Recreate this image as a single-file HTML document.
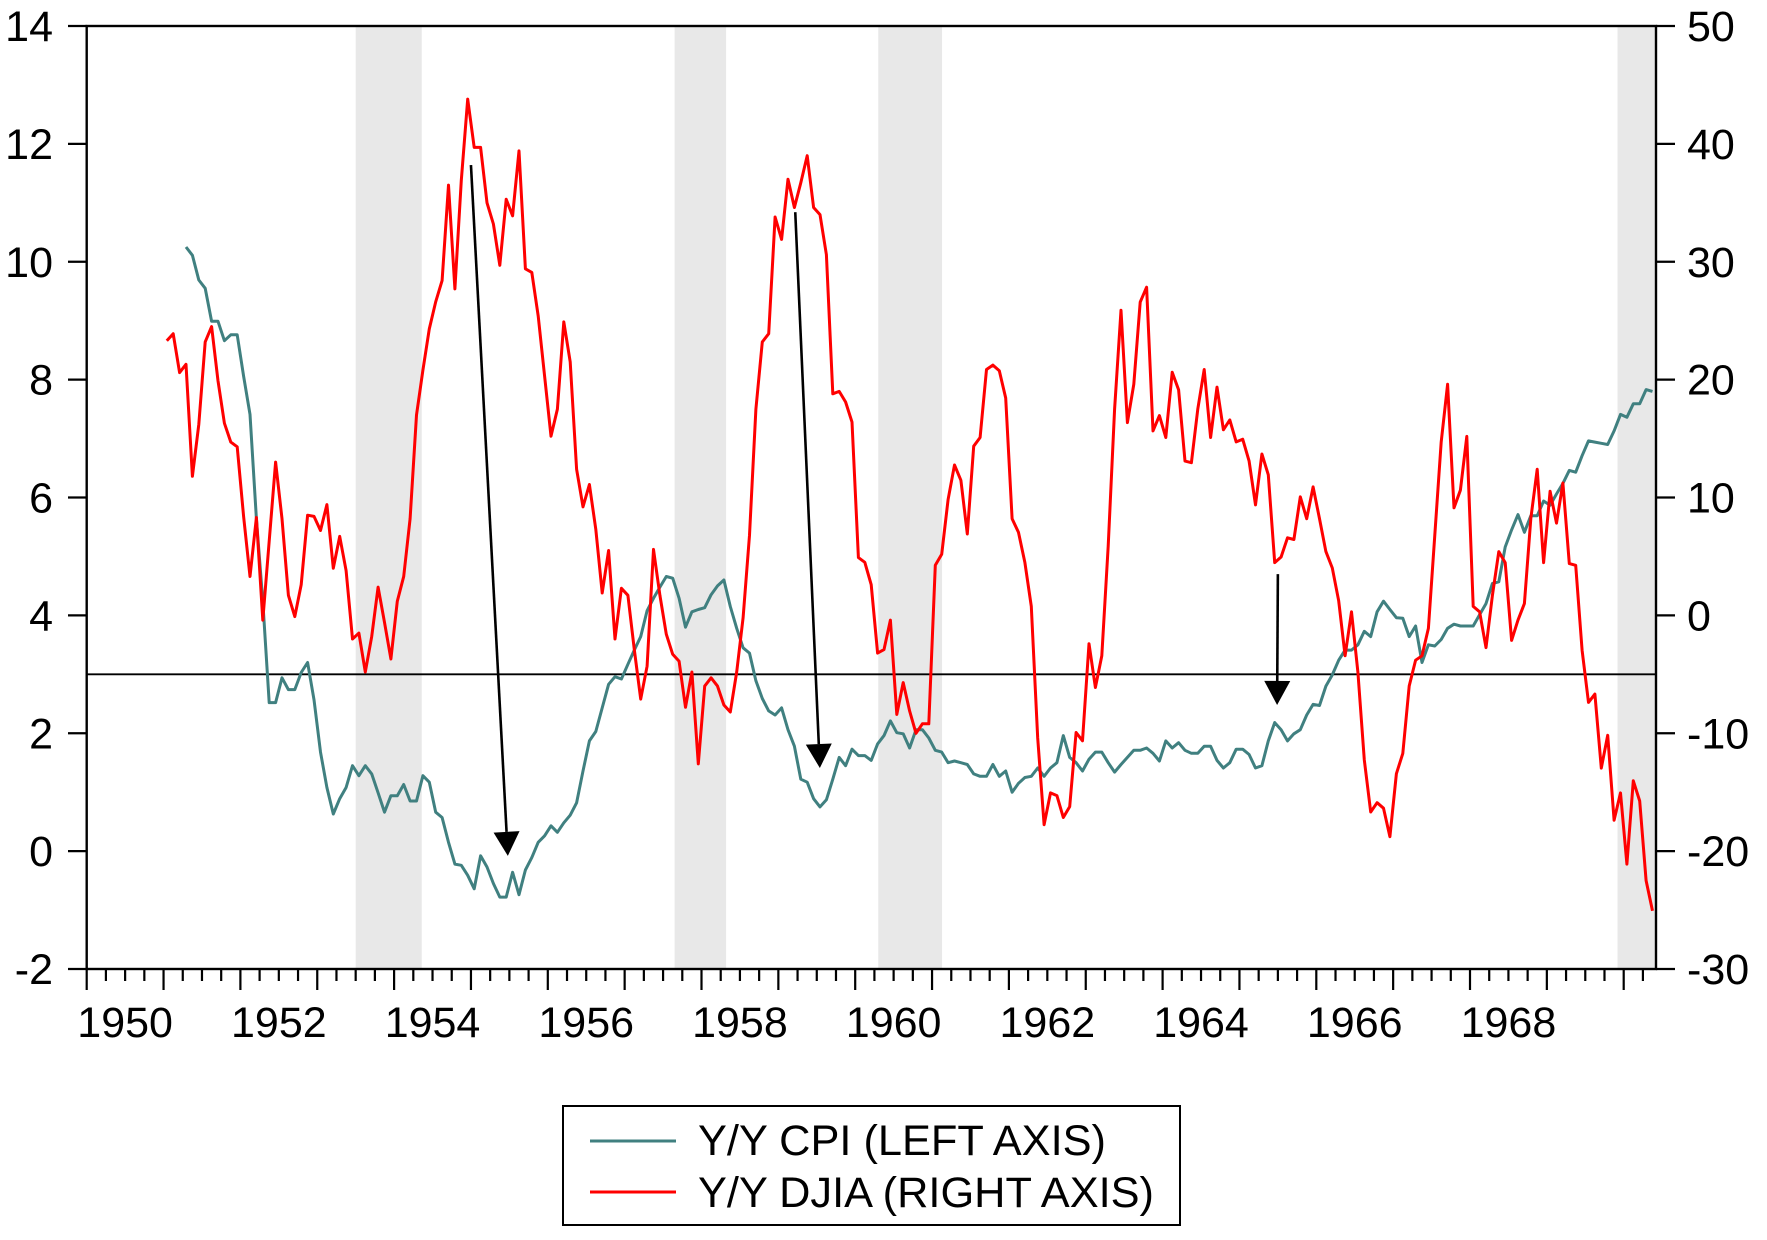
<!DOCTYPE html>
<html><head><meta charset="utf-8">
<style>
html,body{margin:0;padding:0;background:#fff;}
svg{display:block;font-family:"Liberation Sans",Arial,sans-serif;}
</style></head>
<body>
<svg id="chart" width="1767" height="1240" viewBox="0 0 1767 1240" xmlns="http://www.w3.org/2000/svg">
  <rect x="0" y="0" width="1767" height="1240" fill="#fff"/>
  <g id="shades"></g>
  <g id="refline"></g>
  <g id="series"></g>
  <g id="arrows"></g>
  <rect x="86.7" y="26" width="1569.3" height="943" fill="none" stroke="#000" stroke-width="2.4"/>
  <g id="leftAxis"></g>
  <g id="rightAxis"></g>
  <g id="xAxis"></g>
  <g>
    <rect x="563" y="1106" width="617" height="119" fill="#fff" stroke="#000" stroke-width="2"/>
    <line x1="590" y1="1141" x2="676" y2="1141" stroke="#408080" stroke-width="3"/>
    <text x="698" y="1155" font-size="43" textLength="408" lengthAdjust="spacingAndGlyphs" fill="#000">Y/Y CPI (LEFT AXIS)</text>
    <line x1="590" y1="1192" x2="676" y2="1192" stroke="#ff0000" stroke-width="3"/>
    <text x="698" y="1207" font-size="43" textLength="456" lengthAdjust="spacingAndGlyphs" fill="#000">Y/Y DJIA (RIGHT AXIS)</text>
  </g>
</svg>
<script>
// ---- data ----
const startYear = 1951;          // DJIA series starts Jan 1951 (month index 0)
const cpiStartMonth = 3;         // CPI series starts Apr 1951
const djiaValues = [
23.3,23.9,20.6,21.3,11.8,16.2,23.2,24.5,19.9,16.3,
14.7,14.3,8.4,3.3,8.3,-0.4,6.3,13.0,8.2,1.7,
-0.1,2.6,8.5,8.4,7.2,9.4,4.0,6.7,3.8,-2.0,
-1.5,-4.8,-1.8,2.4,-0.6,-3.7,1.2,3.3,8.2,17.0,
20.8,24.3,26.6,28.4,36.5,27.7,36.9,43.8,39.7,39.7,
35.0,33.2,29.7,35.3,33.9,39.4,29.4,29.1,
25.4,20.3,15.2,17.5,24.9,21.5,12.4,9.2,11.1,7.3,
1.9,5.5,-2.0,2.3,1.7,-2.9,-7.1,-4.3,5.6,1.7,
-1.6,-3.3,-3.9,-7.8,-4.8,-12.6,-6.0,-5.3,-6.0,-7.6,
-8.2,-4.8,-0.2,6.8,17.5,23.2,23.9,33.8,31.9,37.0,
34.6,36.7,39.0,34.6,34.0,30.6,18.8,19.0,18.1,16.4,
4.9,4.5,2.6,-3.2,-2.9,-0.4,-8.4,-5.7,-8.1,-10.0,
-9.2,-9.2,
4.25,5.18,9.83,12.76,11.46,6.90,14.35,15.09,20.86,21.23,
20.76,18.44,8.20,7.04,4.48,0.76,-10.4,-17.76,-15.06,-15.29,
-17.15,-16.22,-9.94,-10.64,-2.40,-6.12,-3.43,5.88,17.51,25.88,
16.35,19.6,26.58,27.84,15.65,16.95,15.09,20.62,19.14,13.09,
12.95,17.51,20.86,15.09,19.37,15.74,16.58,14.72,14.95,13.09,
9.37,13.69,11.93,4.48,4.95,6.58,6.44,10.06,8.2,10.9,8.2,
5.41,4.02,1.23,-3.43,0.30,-4.82,-12.26,-16.68,-15.89,-16.36,
-18.78,-13.43,-11.71,-5.99,-3.80,-3.43,-1.10,6.81,14.72,19.60,
9.13,10.62,15.18,0.76,0.30,-2.73,1.69,5.41,4.48,-2.12,
-0.40,1.00,8.20,12.39,4.48,10.53,7.83,11.23,4.39,4.25,
-2.96,-7.38,-6.68,-12.96,-10.17,-17.38,-15.06,-21.1,-14.03,-15.75,
-22.5,-25.06
];
const cpiValues = [
10.25,10.11,9.69,9.55,8.99,8.99,8.66,8.76,8.76,8.06,
7.41,5.64,4.24,2.52,2.52,2.94,2.74,2.74,3.03,3.20,
2.57,1.68,1.08,0.63,0.89,1.08,1.45,1.28,1.45,1.31,
0.99,0.66,0.94,0.94,1.13,0.85,0.85,1.28,1.17,0.66,
0.57,0.15,-0.22,-0.24,-0.41,-0.64,-0.08,-0.27,-0.55,-0.78,
-0.78,-0.36,-0.74,-0.32,-0.11,
0.15,0.26,0.43,0.32,0.48,0.61,0.82,1.36,1.87,2.03,
2.43,2.83,2.96,2.92,3.17,3.41,3.64,4.08,4.29,4.48,
4.66,4.63,4.29,3.80,4.06,4.10,4.13,4.35,4.50,4.60,
4.15,3.78,3.45,3.36,2.89,2.59,2.38,2.31,2.43,2.06,
1.78,1.22,1.17,0.89,0.75,0.87,1.22,1.59,1.45,1.73,
1.62,1.62,1.54,1.82,1.96,2.21,2.01,1.99,1.75,2.06,2.06,1.92,
1.71,1.68,1.50,1.53,1.50,1.47,1.31,1.27,1.27,1.47,
1.27,1.36,1.00,1.15,1.25,1.27,1.41,1.27,1.41,1.50,
1.96,1.59,1.50,1.36,1.56,1.68,1.68,1.50,1.34,1.47,
1.59,1.71,1.71,1.75,1.66,1.53,1.87,1.75,1.84,1.71,
1.66,1.66,1.78,1.78,1.54,1.41,1.50,1.73,1.73,1.64,
1.41,1.45,1.87,2.18,2.06,1.87,1.99,2.06,2.31,2.49,2.47,
2.80,2.99,3.24,3.41,3.41,3.50,3.73,3.64,4.06,4.24,
4.10,3.96,3.95,3.64,3.82,3.20,3.50,3.48,3.59,3.78,
3.85,3.82,3.82,3.82,4.01,4.20,4.54,4.57,5.16,5.45,
5.71,5.41,5.69,5.69,5.94,5.87,6.06,6.24,6.46,6.43,
6.71,6.96,6.94,6.92,6.90,7.13,7.41,7.36,7.59,7.59,
7.83,7.80
];
const recessionStarts = [1953.5, 1957.65, 1960.3, 1969.92];
const recessionEnds   = [1954.36, 1958.32, 1961.13, 1970.5];
const leftTicks  = [-2, 0, 2, 4, 6, 8, 10, 12, 14];
const rightTicks = [-30, -20, -10, 0, 10, 20, 30, 40, 50];
const yearLabels = [1950, 1952, 1954, 1956, 1958, 1960, 1962, 1964, 1966, 1968];
const referenceLevel = 3;
// arrows: from (year, left value) to (year, left value)
const arrowFromYear = [1955.0, 1959.22, 1965.50];
const arrowFromVal  = [11.64, 10.84, 4.70];
const arrowToYear   = [1955.48, 1959.54, 1965.49];
const arrowToVal    = [-0.08, 1.41, 2.48];

// ---- scales ----
const PL = 86.7, PR = 1656, PT = 26, PB = 969;
const X0 = 1950, PXY = 76.85;
function xs(yr){ return PL + (yr - X0) * PXY; }
function yl(v){ return PB - (v - (-2)) / 16 * (PB - PT); }
function yr(v){ return PB - (v - (-30)) / 80 * (PB - PT); }
const NS = "http://www.w3.org/2000/svg";
function mk(tag, attrs, parent){
  const e = document.createElementNS(NS, tag);
  for (const k in attrs) e.setAttribute(k, attrs[k]);
  parent.appendChild(e); return e;
}
function monthYear(m){ return startYear + m / 12 + 1/24; }

// shading
const shades = document.getElementById('shades');
recessionStarts.forEach((s, i) => {
  const x1 = Math.max(PL, xs(s)), x2 = Math.min(PR, xs(recessionEnds[i]));
  const r = mk('rect', {x:x1, y:PT, width:x2-x1, height:PB-PT, fill:'#e8e8e8'}, shades);
  
  
});

// reference line
const rl = mk('line', {x1:PL, x2:PR, y1:yl(referenceLevel), y2:yl(referenceLevel), stroke:'#000', 'stroke-width':1.8}, document.getElementById('refline'));



// series
const series = document.getElementById('series');
const cpiPts = cpiValues.map((v, i) => xs(monthYear(i + cpiStartMonth)).toFixed(1) + ',' + yl(v).toFixed(1)).join(' ');
const cpiLine = mk('polyline', {points:cpiPts, fill:'none', stroke:'#408080', 'stroke-width':3, 'stroke-linejoin':'round'}, series);


const djPts = djiaValues.map((v, i) => xs(monthYear(i)).toFixed(1) + ',' + yr(v).toFixed(1)).join(' ');
const djLine = mk('polyline', {points:djPts, fill:'none', stroke:'#ff0000', 'stroke-width':3, 'stroke-linejoin':'round'}, series);



// arrows
const arrows = document.getElementById('arrows');
arrowFromYear.forEach((fy, i) => {
  const x1 = xs(fy), y1 = yl(arrowFromVal[i]), x2 = xs(arrowToYear[i]), y2 = yl(arrowToVal[i]);
  const ang = Math.atan2(y2 - y1, x2 - x1);
  const hl = 24, hw = 13;
  const bx = x2 - hl * Math.cos(ang), by = y2 - hl * Math.sin(ang);
  const ln = mk('line', {x1:x1, y1:y1, x2:bx, y2:by, stroke:'#000', 'stroke-width':2.6}, arrows);
  
  
  const px = -Math.sin(ang) * hw, py = Math.cos(ang) * hw;
  const hd = mk('polygon', {points:`${x2},${y2} ${bx+px},${by+py} ${bx-px},${by-py}`, fill:'#000'}, arrows);
  
  
});

// left axis
const la = document.getElementById('leftAxis');
leftTicks.forEach(v => {
  const y = yl(v);
  const t = mk('line', {x1:68, x2:PL, y1:y, y2:y, stroke:'#000', 'stroke-width':2.2}, la);
  
  
  const tx = mk('text', {x:53, y:y + 15, 'font-size':43, 'text-anchor':'end', fill:'#000'}, la);
  tx.textContent = String(v);
  
  
});
// right axis
const ra = document.getElementById('rightAxis');
rightTicks.forEach(v => {
  const y = yr(v);
  const t = mk('line', {x1:PR, x2:1675, y1:y, y2:y, stroke:'#000', 'stroke-width':2.2}, ra);
  
  
  const tx = mk('text', {x:1687, y:y + 15, 'font-size':43, 'text-anchor':'start', fill:'#000'}, ra);
  tx.textContent = String(v);
  
  
});
// x axis
const xa = document.getElementById('xAxis');
for (let q = 0; q <= 4 * 21; q++) {
  const yrv = X0 + q / 4;
  const x = xs(yrv);
  if (x > PR + 0.5) break;
  const major = q % 4 === 0;
  const t = mk('line', {x1:x, x2:x, y1:PB, y2:PB + (major ? 21 : 12), stroke:'#000', 'stroke-width':2.2}, xa);
  
  
}
yearLabels.forEach(y => {
  const tx = mk('text', {x:xs(y + 0.5), y:1037, 'font-size':43, 'text-anchor':'middle', fill:'#000'}, xa);
  tx.textContent = String(y);
  
  
});
</script>
</body></html>
